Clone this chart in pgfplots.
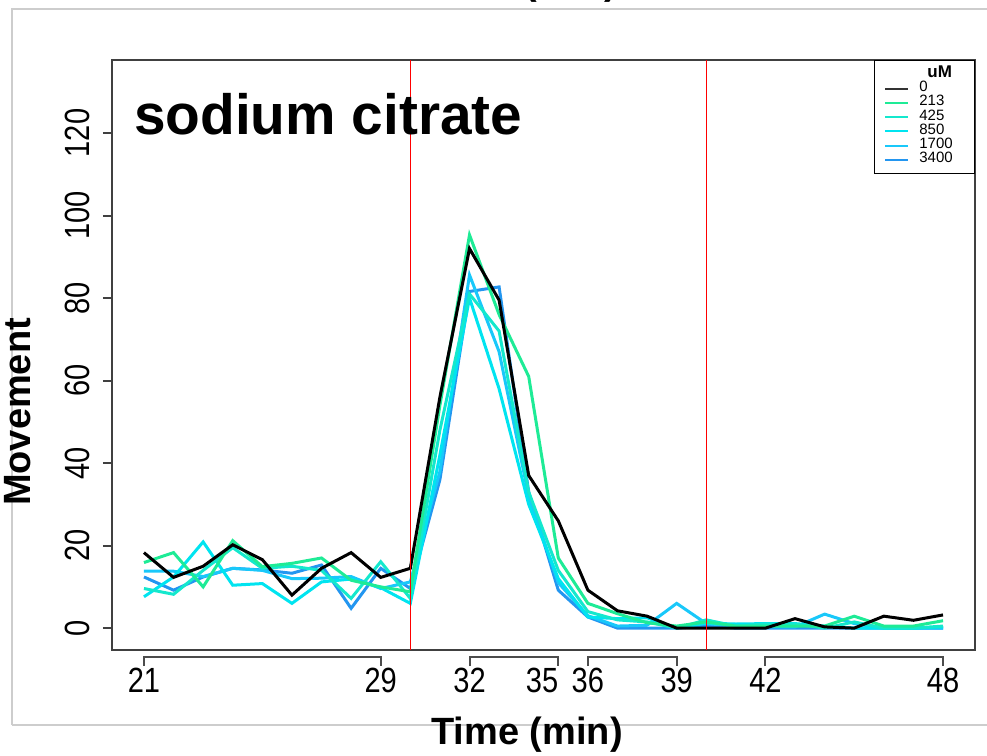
\documentclass[border=0pt]{standalone}
\usepackage{pgfplots}
\pgfplotsset{compat=1.18}
\usepackage{pgfplotstable}
\usepackage{fontspec}
\setmainfont{Liberation Sans}
\newfontfamily\tickfont[FakeStretch=0.83]{Liberation Sans}

\definecolor{c213}{RGB}{30,235,150}
\definecolor{c425}{RGB}{20,232,205}
\definecolor{c850}{RGB}{0,228,240}
\definecolor{c1700}{RGB}{25,200,250}
\definecolor{c3400}{RGB}{35,150,240}
\definecolor{framegray}{RGB}{205,205,205}

% movement per minute, one column per concentration (uM)
\pgfplotstableread{
t   c0    c213  c425  c850  c1700 c3400
21  18.3  15.9   9.6   7.6  13.8  12.4
22  12.3  18.3   8.2  12.4  13.8   9.2
23  15.0  10.0  14.0  20.9  12.5  12.4
24  20.2  21.2  19.5  10.4  14.5  14.5
25  16.6  14.9  14.5  10.8  14.0  14.1
26   8.0  15.7  15.0   6.0  12.0  13.3
27  14.5  17.0  14.0  11.2  12.1  15.3
28  18.3  11.6   7.2  11.9  12.5   4.8
29  12.3  10.0  16.1   9.8   9.6  14.5
30  14.5   8.8   7.2   6.0  11.2   9.6
31  56.0  54.0  48.0  42.0  38.0  36.0
32  92.0  95.3  81.0  80.0  85.6  81.6
33  79.5  76.0  72.0  58.0  67.0  82.7
34  37.0  61.0  33.0  30.0  32.0  33.0
35  26.0  17.0  14.0  12.0  11.0   9.2
36   9.2   6.0   4.0   2.7   3.0   2.7
37   4.2   3.5   2.0   2.3   0.5   0.0
38   2.9   1.3   1.5   2.5   0.7   0.0
39   0.0   0.5   0.0   0.0   6.0   0.0
40   0.0   1.5   2.0   1.2   1.1   0.5
41   0.0   0.5   0.5   1.0   0.5   0.0
42   0.0   0.5   1.0   1.1   0.3   0.0
43   2.3   0.5   1.0   1.1   0.3   0.0
44   0.3   0.5   0.0   0.5   3.4   0.0
45   0.0   2.9   1.5   0.0   1.1   0.0
46   2.9   0.5   0.0   0.0   0.0   0.0
47   1.9   0.5   0.0   0.0   0.0   0.0
48   3.2   1.8   0.5   0.3   0.0   0.0
}\movement

\newcommand\legcell[1]{\makebox[22.5pt][l]{#1}}

\begin{document}
\begin{tikzpicture}
\useasboundingbox (-56pt,-53pt) rectangle (437.5pt,325pt);
% page frame
\draw[framegray, line width=0.75pt] (-50pt,-37.5pt) -- (-50pt,320.5pt) -- (440pt,320.5pt);
\draw[framegray, line width=0.75pt] (-50pt,-37.5pt) -- (440pt,-37.5pt);
% heading above the panel
\node[anchor=base, font=\fontsize{19}{19}\selectfont\bfseries] at (229.5pt,327.5pt) {(min)};
\begin{axis}[
  at={(0,0)}, anchor=south west,
  scale only axis, width=431.5pt, height=295pt,
  xmin=19.92, xmax=49.08, ymin=-5.3, ymax=137.7,
  clip=false,
  axis line style={line width=1pt, black!75},
  xtick={21,29,32,35,36,39,42,48},
  xticklabels={21,29,32,{\makebox[0pt][r]{35}},36,39,42,48},
  ytick={0,20,...,120},
  xtick pos=bottom, ytick pos=left,
  tick align=outside,
  major tick length=4.5pt,
  x tick style={draw=none},
  y tick style={line width=1pt, black!75},
  /pgf/number format/assume math mode=true,
  tick label style={font=\tickfont\fontsize{17.5}{17.5}\selectfont},
  xticklabel style={anchor=north, inner sep=0pt, yshift=-4.5pt},
  yticklabel style={rotate=90, anchor=south, inner xsep=0pt, inner ysep=6.5pt},
  legend cell align=left,
  legend style={at={(1,1)}, anchor=north east, draw=black, line width=0.6pt,
    font=\fontsize{7.5}{7.5}\selectfont,
    inner xsep=5pt, inner ysep=3.45pt, row sep=0pt, column sep=5pt,
    nodes={inner sep=0pt, text height=5pt, text depth=2.1pt}},
  legend image code/.code={\draw[#1, line width=1pt] (0pt,0pt) -- (11.5pt,0pt);},
]
\addlegendimage{empty legend}
\addlegendentry{\legcell{\hspace{4pt}\fontsize{8.5}{8.5}\selectfont\bfseries uM}}
\addlegendimage{black!80}\addlegendentry{\legcell{0}}
\addlegendimage{c213}\addlegendentry{\legcell{213}}
\addlegendimage{c425}\addlegendentry{\legcell{425}}
\addlegendimage{c850}\addlegendentry{\legcell{850}}
\addlegendimage{c1700}\addlegendentry{\legcell{1700}}
\addlegendimage{c3400}\addlegendentry{\legcell{3400}}

\addplot[c3400, line width=1.5pt, forget plot] table[x=t, y=c3400] {\movement};
\addplot[c1700, line width=1.5pt, forget plot] table[x=t, y=c1700] {\movement};
\addplot[c850, line width=1.5pt, forget plot] table[x=t, y=c850] {\movement};
\addplot[c425, line width=1.5pt, forget plot] table[x=t, y=c425] {\movement};
\addplot[c213, line width=1.5pt, forget plot] table[x=t, y=c213] {\movement};
\addplot[black, line width=1.5pt, forget plot] table[x=t, y=c0] {\movement};

% treatment window
\addplot[red, line width=0.75pt, forget plot] coordinates {(30,-5.3) (30,137.7)};
\addplot[red, line width=0.75pt, forget plot] coordinates {(40,-5.3) (40,137.7)};

% grouped x axis segments
\draw[line width=1pt, black!70] (axis cs:21,-9.2) -- (axis cs:21,-7.0) -- (axis cs:29,-7.0) -- (axis cs:29,-9.2);
\draw[line width=1pt, black!70] (axis cs:32,-9.2) -- (axis cs:32,-7.0) -- (axis cs:35,-7.0) -- (axis cs:35,-9.2);
\draw[line width=1pt, black!70] (axis cs:36,-9.2) -- (axis cs:36,-7.0) -- (axis cs:39,-7.0) -- (axis cs:39,-9.2);
\draw[line width=1pt, black!70] (axis cs:42,-9.2) -- (axis cs:42,-7.0) -- (axis cs:48,-7.0) -- (axis cs:48,-9.2);
\end{axis}
\node[anchor=base west, font=\fontsize{28.4}{28.4}\selectfont\bfseries] at (7.5pt,257.5pt) {sodium citrate};
\node[rotate=90, font=\fontsize{19}{19}\selectfont\bfseries] at (-47pt,119pt) {Movement};
\node[anchor=base, font=\fontsize{19}{19}\selectfont\bfseries] at (207.5pt,-47.5pt) {Time (min)};
\end{tikzpicture}
\end{document}
